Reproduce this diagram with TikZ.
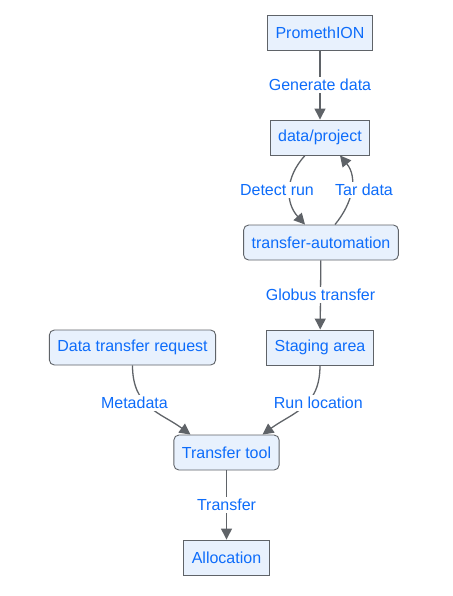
\documentclass[tikz,border=0pt]{standalone}
\usepackage{fontspec}
\setmainfont{Liberation Sans}
\usetikzlibrary{arrows.meta,positioning}
\definecolor{boxfill}{RGB}{232,241,253}
\definecolor{boxline}{RGB}{95,99,104}
\definecolor{txtblue}{RGB}{13,108,250}

\begin{document}
\begin{tikzpicture}[x=1pt,y=-1pt,
				font=\fontsize{16}{18}\selectfont,
				box/.style={draw=boxline,fill=boxfill,text=txtblue,line width=0.9pt,
					minimum height=35pt,inner xsep=8pt},
				rbox/.style={box,rounded corners=5pt},
				lbl/.style={fill=white,text=txtblue,inner sep=2pt},
				flow/.style={draw=boxline,line width=1.3pt,
					-{Triangle[width=11pt,length=11pt]}}]
			\useasboundingbox (0,0) rectangle (452,596);
			\node [box] (prom) at (320,32.5) {PromethION};
			\node [box] (proj) at (320,137.5) {data/project};
			\node [rbox] (auto) at (321,242.5) {transfer-automation};
			\node [box] (stage) at (320,347.5) {Staging area};
			\node [rbox] (req) at (132.5,347.5) {Data transfer request};
			\node [rbox] (tool) at (226.5,452.5) {Transfer tool};
			\node [box] (alloc) at (226.5,557.5) {Allocation};
			% edges
			\draw [flow] (prom) -- node[lbl] {Generate data} (proj);
			\draw [flow] ([xshift=-15pt]proj.south) .. controls +(-20,22) and +(-20,-22)
				.. node[lbl,xshift=-13pt] {Detect run} ([xshift=-16pt]auto.north);
			\draw [flow] ([xshift=14pt]auto.north) .. controls +(18,-22) and +(18,22)
				.. node[lbl,xshift=13pt] {Tar data} ([xshift=20pt]proj.south);
			\draw [flow] (auto) -- node[lbl] {Globus transfer} (stage);
			\draw [flow] (req.south) .. controls +(0,42) and +(-30,-22)
				.. node[lbl,pos=0.42,xshift=-11pt] {Metadata} ([xshift=-36pt]tool.north);
			\draw [flow] (stage.south) .. controls +(0,42) and +(30,-22)
				.. node[lbl,pos=0.42,xshift=11pt] {Run location} ([xshift=36pt]tool.north);
			\draw [flow] (tool) -- node[lbl] {Transfer} (alloc);
		\end{tikzpicture}
\end{document}
